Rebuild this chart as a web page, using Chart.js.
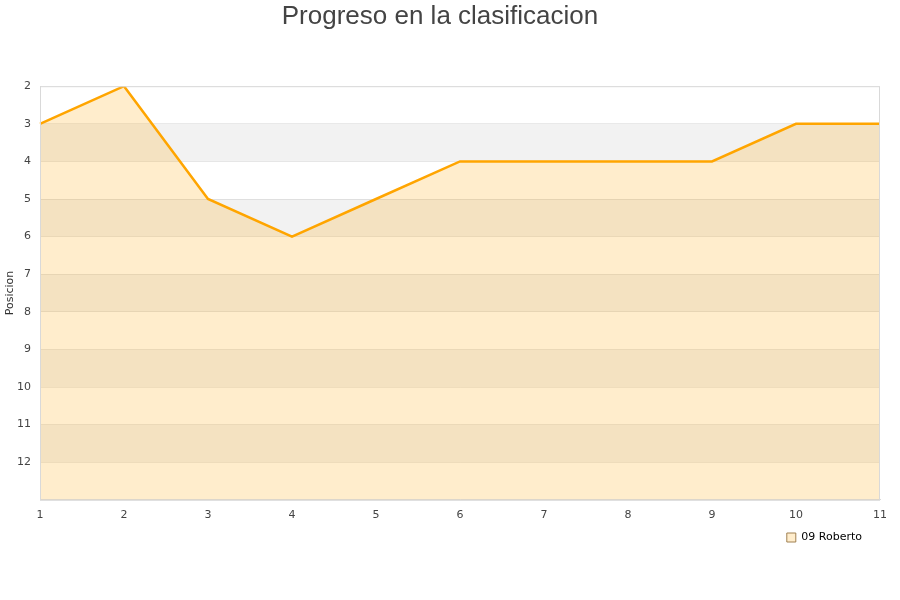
<!DOCTYPE html>
<html>
<head>
<meta charset="utf-8">
<script src="https://cdn.jsdelivr.net/npm/chart.js@4/dist/chart.umd.min.js"></script>
<style>
  html, body { margin: 0; padding: 0; background: #fff; }
  #wrap { width: 900px; height: 600px; }
</style>
</head>
<body>
<div id="wrap"><canvas id="c" width="900" height="600"></canvas></div>
<script>
const jornadas = ["1", "2", "3", "4", "5", "6", "7", "8", "9", "10", "11"];
const posiciones = [3, 2, 5, 6, 5, 4, 4, 4, 4, 3, 3];
const jugador = "09 Roberto";
const posMin = 2;
const posMax = 13;

// alternate grey bands behind the grid, frame round the plot area
const bandsPlugin = {
  id: "bands",
  afterLayout(chart) {
    // legend sits a bit in from the right edge
    if (chart.legend) chart.legend.right -= 9;
  },
  beforeDraw(chart) {
    const { ctx, chartArea: a, scales: { y } } = chart;
    ctx.save();
    ctx.fillStyle = "#f2f2f2";
    for (let v = posMin + 1; v < posMax; v += 2) {
      const t = y.getPixelForValue(v);
      const b = y.getPixelForValue(v + 1);
      ctx.fillRect(a.left, t, a.right - a.left, b - t);
    }
    ctx.restore();
  },
  afterDatasetsDraw(chart) {
    const { ctx, chartArea: a } = chart;
    ctx.save();
    ctx.strokeStyle = "#d9d9d9";
    ctx.lineWidth = 1;
    ctx.strokeRect(a.left + 0.5, a.top + 0.5, a.right - a.left - 1, a.bottom - a.top);
    ctx.restore();
  },
};

const ctx = document.getElementById("c").getContext("2d");
new Chart(ctx, {
  type: "line",
  data: {
    labels: jornadas,
    datasets: [
      {
        label: jugador,
        data: posiciones,
        borderColor: "#ffa500",
        backgroundColor: "rgba(255,165,0,0.2)",
        borderWidth: 2.5,
        tension: 0,
        pointRadius: 0,
        fill: { value: posMax },
      },
    ],
  },
  options: {
    responsive: false,
    animation: false,
    layout: { padding: { left: 0, right: 20, top: 1, bottom: 47 } },
    plugins: {
      title: {
        display: true,
        text: "Progreso en la clasificacion",
        color: "#444",
        font: { family: "Liberation Sans, Arial, sans-serif", size: 26, weight: "normal" },
        padding: { top: 0, bottom: 54 },
      },
      legend: {
        position: "bottom",
        align: "end",
        labels: {
          boxWidth: 9,
          boxHeight: 9,
          padding: 9,
          color: "#222",
          font: { family: "DejaVu Sans, sans-serif", size: 11 },
          generateLabels: () => [
            {
              text: jugador,
              fillStyle: "rgba(255,165,0,0.2)",
              strokeStyle: "#a08050",
              lineWidth: 1,
              datasetIndex: 0,
            },
          ],
        },
      },
      tooltip: { enabled: false },
    },
    scales: {
      x: {
        offset: false,
        grid: { display: false },
        border: { color: "#d9d9d9" },
        ticks: { color: "#444", font: { family: "DejaVu Sans, sans-serif", size: 11 }, maxRotation: 0, padding: 1 },
      },
      y: {
        reverse: true,
        min: posMin,
        max: posMax,
        afterFit: (scale) => { scale.width = 40; },
        grid: { color: "rgba(0,0,0,0.08)", drawTicks: false },
        border: { color: "#d9d9d9" },
        title: { display: true, text: "Posicion", color: "#333", font: { family: "DejaVu Sans, sans-serif", size: 11 }, padding: 4 },
        ticks: {
          stepSize: 1,
          color: "#444",
          padding: 9,
          font: { family: "DejaVu Sans, sans-serif", size: 11 },
          callback: (v) => (v === posMax ? "" : v),
        },
      },
    },
  },
  plugins: [bandsPlugin],
});
</script>
</body>
</html>
